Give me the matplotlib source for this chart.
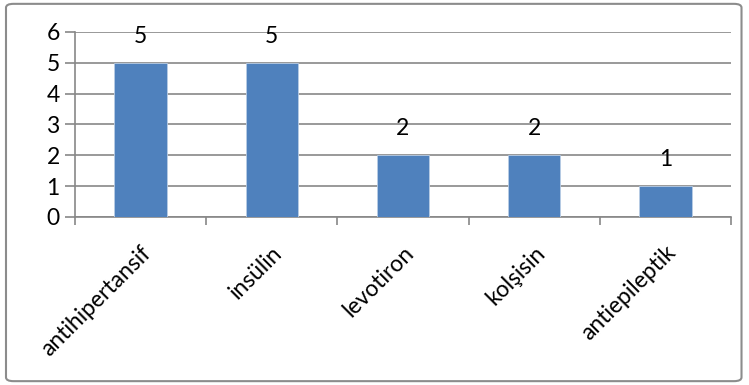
import matplotlib
matplotlib.use('Agg')
import matplotlib.pyplot as plt
from matplotlib.patches import FancyBboxPatch
import numpy as np

# ilaç grupları ve hasta sayıları
ilaclar = ['antihipertansif', 'insülin', 'levotiron', 'kolşisin', 'antiepileptik']
sayilar = [5, 5, 2, 2, 1]

plt.rcParams['font.family'] = ['Lato', 'DejaVu Sans']
grid_renk = '#878787'

fig = plt.figure(figsize=(7.49, 3.85), dpi=100)
ax = fig.add_axes([0.1001, 0.4364, 0.8758, 0.4805])

# dış çerçeve
fig.patches.append(FancyBboxPatch((0.008, 0.01), 0.982, 0.98,
                                  boxstyle='round,pad=0,rounding_size=0.01',
                                  transform=fig.transFigure, facecolor='none',
                                  edgecolor='#8c8c8c', linewidth=1.5))

x = np.arange(len(ilaclar))
ax.bar(x, sayilar, width=0.4, color='#4f81bd', edgecolor='#b9cde5',
       linewidth=0.6, zorder=3)

for xi, v in zip(x, sayilar):
    ax.annotate(str(v), (xi, v), xytext=(0, 19), textcoords='offset points',
                ha='center', va='center', fontsize=16.5)

ax.set_xlim(-0.5, len(ilaclar) - 0.5)
ax.set_ylim(0, 6)
ax.set_yticks(range(0, 7))
ax.yaxis.grid(True, color=grid_renk, linewidth=1.2, zorder=0)
ax.set_axisbelow(True)

# kategori sınırlarında tik çizgileri
ax.set_xticks(x)
ax.set_xticks(np.arange(-0.5, len(ilaclar)), minor=True)
ax.tick_params(axis='x', which='major', length=0, pad=18)
ax.tick_params(axis='x', which='minor', length=6, color=grid_renk, width=1.2)
ax.tick_params(axis='y', length=7, color=grid_renk, width=1.2, labelsize=16.5, pad=4)
ax.set_xticklabels(ilaclar, rotation=45, ha='right', rotation_mode='anchor',
                   fontsize=16.5)

for s in ['top', 'right']:
    ax.spines[s].set_visible(False)
for s in ['left', 'bottom']:
    ax.spines[s].set_color(grid_renk)
    ax.spines[s].set_linewidth(1.2)

fig.savefig('out.png', dpi=100)
